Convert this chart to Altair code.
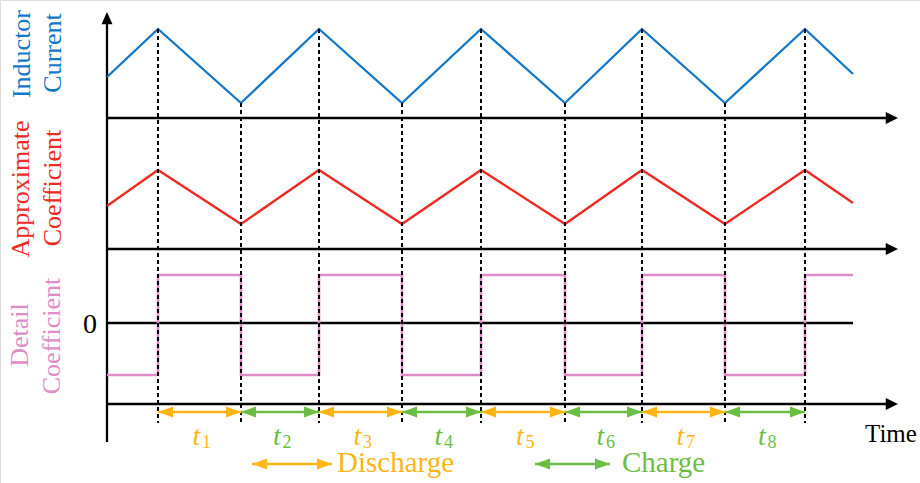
import altair as alt
import pandas as pd

# ---- data (time units / signal units) ----
breaks = [0.51, 1.34, 2.12, 2.95, 3.74, 4.58, 5.35, 6.18, 6.98]   # switching instants
t_start, t_end = 0.0, 7.46
current_start, current_peak, current_trough, current_end = 4.06, 4.54, 3.80, 4.09
approx_start, approx_peak, approx_trough, approx_end = 2.77, 3.13, 2.59, 2.80
detail_high, detail_low, detail_zero = 2.08, 1.08, 1.60
interval_labels = ["1", "2", "3", "4", "5", "6", "7", "8"]
interval_kind = ["Discharge", "Charge"] * 4

BLUE, RED, PINK = "#1177C8", "#EE2A24", "#DD8CC6"
ORANGE, GREEN = "#FDB515", "#6CBD45"
FONT = "Liberation Serif"

xs = alt.Scale(domain=[-1.07, 8.13], range=[0, 920], zero=False, nice=False)
ys = alt.Scale(domain=[0, 4.83], zero=False, nice=False)

def X(f="x"):
    return alt.X(f"{f}:Q", scale=xs, axis=None)

def Y(f="y"):
    return alt.Y(f"{f}:Q", scale=ys, axis=None)

# waveforms
times = [t_start] + breaks + [t_end]
cur = [current_start] + [current_peak if i % 2 == 0 else current_trough for i in range(len(breaks))] + [current_end]
app = [approx_start] + [approx_peak if i % 2 == 0 else approx_trough for i in range(len(breaks))] + [approx_end]
det = [detail_low] + [detail_high if i % 2 == 0 else detail_low for i in range(len(breaks))] + [detail_high]

wave = pd.DataFrame({"x": times, "cur": cur, "app": app, "det": det})
blue = alt.Chart(wave).mark_line(color=BLUE, strokeWidth=2.3).encode(x=X(), y=Y("cur"))
red = alt.Chart(wave).mark_line(color=RED, strokeWidth=2.3).encode(x=X(), y=Y("app"))
pink = alt.Chart(wave).mark_line(color=PINK, strokeWidth=2.6, interpolate="step-after").encode(x=X(), y=Y("det"))

# dashed guides
dash_df = pd.DataFrame({"x": breaks, "y": cur[1:-1], "y2": [0.60] * len(breaks)})
dashes = alt.Chart(dash_df).mark_rule(color="black", strokeWidth=2, strokeDash=[4, 3]).encode(
    x=X(), y=Y(), y2="y2:Q")

# axes
hax = pd.DataFrame({"x": [0, 0, 0, 0], "x2": [7.84, 7.84, 7.46, 7.84], "y": [3.65, 2.34, detail_zero, 0.79]})
haxes = alt.Chart(hax).mark_rule(color="black", strokeWidth=2.3).encode(x=X(), x2="x2:Q", y=Y())
vax = alt.Chart(pd.DataFrame({"x": [0], "y": [0.41], "y2": [4.62]})).mark_rule(
    color="black", strokeWidth=2.3).encode(x=X(), y=Y(), y2="y2:Q")
harrow = alt.Chart(pd.DataFrame({"x": [7.91] * 3, "y": [3.65, 2.34, 0.79]})).mark_point(
    shape="M0,0L-1,-0.5L-1,0.5Z", size=600, filled=True, opacity=1, color="black").encode(x=X(), y=Y())
varrow = alt.Chart(pd.DataFrame({"x": [0], "y": [4.71]})).mark_point(
    shape="M0,0L-0.45,1L0.45,1Z", size=600, filled=True, opacity=1, color="black").encode(x=X(), y=Y())

# interval arrows
iv = pd.DataFrame({
    "x": breaks[:-1], "x2": breaks[1:], "y": [0.71] * 8,
    "kind": interval_kind, "lab": interval_labels,
    "mid": [(a + b) / 2 for a, b in zip(breaks[:-1], breaks[1:])],
})
cscale = alt.Scale(domain=["Discharge", "Charge"], range=[ORANGE, GREEN])
col = alt.Color("kind:N", scale=cscale, legend=None)
ivline = alt.Chart(iv).mark_rule(strokeWidth=2.5).encode(x=X(), x2="x2:Q", y=Y(), color=col)
ivl = alt.Chart(iv).mark_point(shape="M0,0L1,-0.36L1,0.36Z", size=900, filled=True, opacity=1).encode(
    x=X(), y=Y(), color=col)
ivr = alt.Chart(iv).mark_point(shape="M0,0L-1,-0.36L-1,0.36Z", size=900, filled=True, opacity=1).encode(
    x=X("x2"), y=Y(), color=col)
tlab = alt.Chart(iv).transform_calculate(t="'t'", ty="0.38").mark_text(
    font=FONT, fontSize=28, fontStyle="italic", dx=-3, baseline="alphabetic").encode(
    x=X("mid"), y=Y("ty"), text="t:N", color=col)
tsub = alt.Chart(iv).transform_calculate(ty="0.35").mark_text(
    font=FONT, fontSize=18, dx=7, baseline="alphabetic").encode(
    x=X("mid"), y=Y("ty"), text="lab:N", color=col)

# legend arrows
lg = pd.DataFrame({"x": [1.45, 4.28], "x2": [2.25, 5.03], "y": [0.19, 0.19],
                   "kind": ["Discharge", "Charge"], "tx": [2.30, 5.15], "ty": [0.11, 0.11]})
lgline = alt.Chart(lg).mark_rule(strokeWidth=2.5).encode(x=X(), x2="x2:Q", y=Y(), color=col)
lgl = alt.Chart(lg).mark_point(shape="M0,0L1,-0.36L1,0.36Z", size=900, filled=True, opacity=1).encode(
    x=X(), y=Y(), color=col)
lgr = alt.Chart(lg).mark_point(shape="M0,0L-1,-0.36L-1,0.36Z", size=900, filled=True, opacity=1).encode(
    x=X("x2"), y=Y(), color=col)
lgtext = alt.Chart(lg).mark_text(font=FONT, fontSize=29, align="left", baseline="alphabetic").encode(
    x=X("tx"), y=Y("ty"), text="kind:N", color=col)

# side labels
side = pd.DataFrame({
    "x": [-0.77, -0.46, -0.78, -0.46, -0.79, -0.47],
    "y": [4.29, 4.30, 2.94, 2.95, 1.48, 1.47],
    "text": ["Inductor", "Current", "Approximate", "Coefficient", "Detail", "Coefficient"],
    "grp": ["a", "a", "b", "b", "c", "c"],
})
side_layers = []
for g, c in zip(["a", "b", "c"], [BLUE, RED, PINK]):
    side_layers.append(
        alt.Chart(side[side.grp == g]).mark_text(
            font=FONT, fontSize=26, angle=270, align="center", baseline="alphabetic", color=c
        ).encode(x=X(), y=Y(), text="text:N")
    )

misc = pd.DataFrame({"x": [-0.17, 7.58], "y": [1.50, 0.41], "text": ["0", "Time"]})
zero = alt.Chart(misc.iloc[[0]]).mark_text(font=FONT, fontSize=28, baseline="alphabetic", color="black").encode(
    x=X(), y=Y(), text="text:N")
timel = alt.Chart(misc.iloc[[1]]).mark_text(font=FONT, fontSize=25, align="left", baseline="alphabetic",
                                            color="black").encode(x=X(), y=Y(), text="text:N")

chart = alt.layer(
    haxes, vax, harrow, varrow,
    blue, red, pink, dashes,
    ivline, ivl, ivr, tlab, tsub,
    lgline, lgl, lgr, lgtext,
    *side_layers, zero, timel,
).properties(
    width=920, height=483, padding=0, autosize=alt.AutoSizeParams(type="none"),
).configure_view(stroke=None).configure(background="white")

chart.save("out.html", embed_options={"renderer": "svg", "actions": False})
